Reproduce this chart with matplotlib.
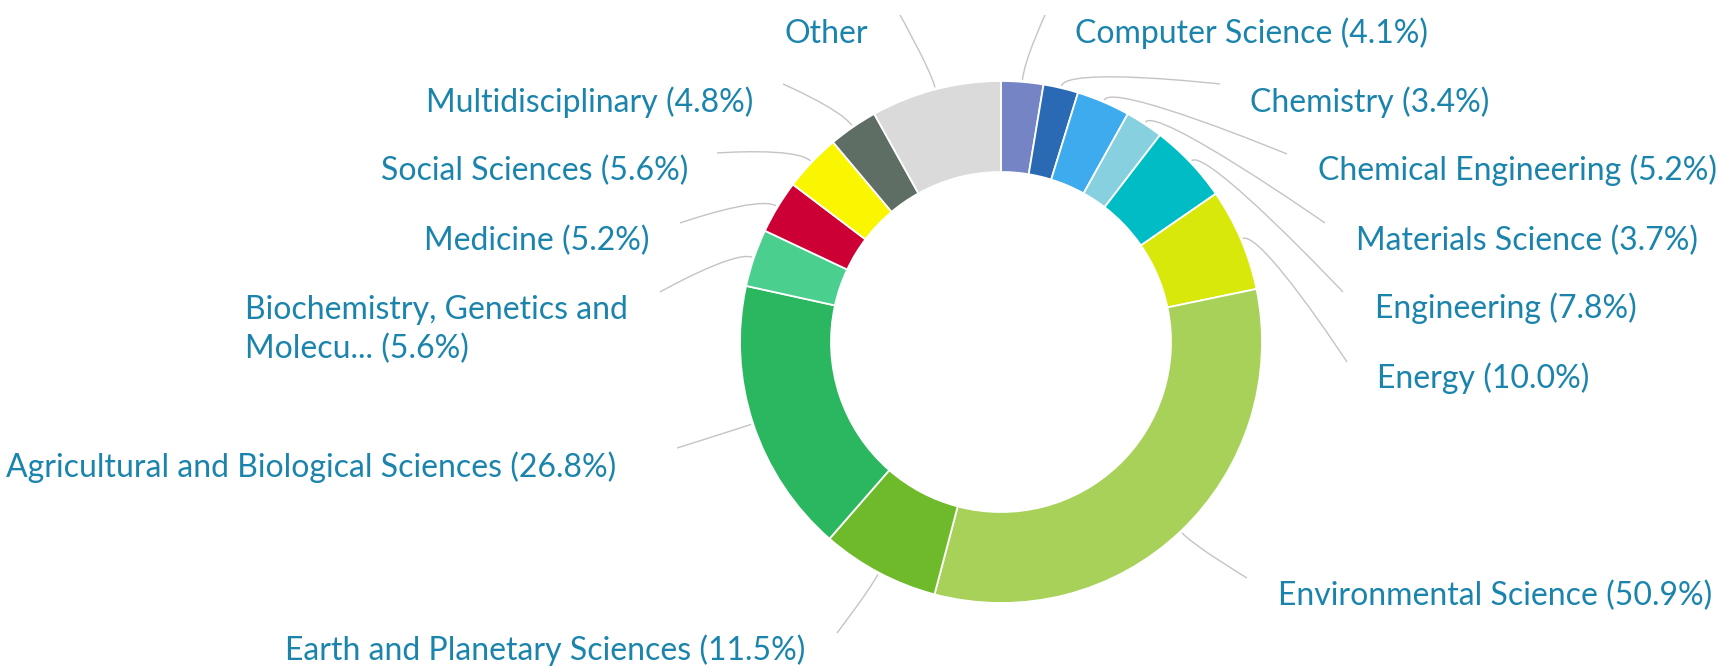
import matplotlib
matplotlib.use("Agg")
import matplotlib.pyplot as plt
from matplotlib.path import Path
from matplotlib.patches import PathPatch
import numpy as np

# subject areas, clockwise from 12 o'clock
subjects = ["Computer Science", "Chemistry", "Chemical Engineering",
            "Materials Science", "Engineering", "Energy",
            "Environmental Science", "Earth and Planetary Sciences",
            "Agricultural and Biological Sciences",
            "Biochemistry, Genetics and\nMolecu...", "Medicine",
            "Social Sciences", "Multidisciplinary", "Other"]
shares = [4.1, 3.4, 5.2, 3.7, 7.8, 10.0, 50.9, 11.5, 26.8, 5.6, 5.2, 5.6, 4.8, 12.7]
show_pct = [True] * 13 + [False]

colors = ["#7584C4", "#2A6AB5", "#3DABEE", "#86D0E0", "#00BCC4", "#D7E80A",
          "#A8D15A", "#6EBA2A", "#2BB660", "#4BCF8E", "#CC0035", "#FAF500",
          "#5F6E64", "#DADADA"]

# layout in image pixels (x, baseline y, alignment, connector end)
W, H = 1734, 667
CX, CY, R, R_IN = 1001, 342, 261, 170
label_pos = [(1075, 43, "left", (1045, 15)),
             (1250, 112, "left", (1220, 84)),
             (1318, 180, "left", (1287, 154)),
             (1356, 250, "left", (1325, 223)),
             (1375, 318, "left", (1343, 292)),
             (1377, 388, "left", (1347, 362)),
             (1278, 605, "left", (1247, 578)),
             (805, 660, "right", (837, 633)),
             (616, 477, "right", (677, 448)),
             (245, 319, "left", (660, 292)),
             (650, 250, "right", (680, 223)),
             (688, 180, "right", (717, 153)),
             (753, 112, "right", (783, 84)),
             (868, 43, "right", (900, 15))]

TEXT = "#1B84AD"
FONT = ["Lato", "DejaVu Sans"]


def fy(y):
    return H - y


fig = plt.figure(figsize=(W / 100, H / 100), dpi=100)
ax = fig.add_axes([0, 0, 1, 1])

wedges, _ = ax.pie(shares, colors=colors, startangle=90, counterclock=False,
                   radius=R, center=(CX, fy(CY)),
                   wedgeprops=dict(width=R - R_IN, edgecolor="white", linewidth=1.3))

for w, name, v, pct, (lx, ly, ha, end) in zip(wedges, subjects, shares, show_pct, label_pos):
    a = np.deg2rad((w.theta1 + w.theta2) / 2)
    u = np.array([np.cos(a), np.sin(a)])
    c = np.array([CX, fy(CY)])
    p0 = c + (R + 2) * u
    p1 = c + (R + 22) * u
    e = (end[0], fy(end[1]))
    path = Path([p0, p1, e, e], [Path.MOVETO, Path.CURVE4, Path.CURVE4, Path.CURVE4])
    ax.add_patch(PathPatch(path, fill=False, edgecolor="#C4C4C4", linewidth=1.0))

    text = f"{name} ({v:.1f}%)" if pct else name
    for i, line in enumerate(text.split("\n")):
        ax.text(lx, fy(ly + 39 * i), line, ha=ha, va="baseline",
                fontsize=23, color=TEXT, family=FONT)

ax.set_xlim(0, W)
ax.set_ylim(0, H)
ax.set_aspect("equal")
ax.axis("off")
fig.savefig("out.png", dpi=100, facecolor="white")
